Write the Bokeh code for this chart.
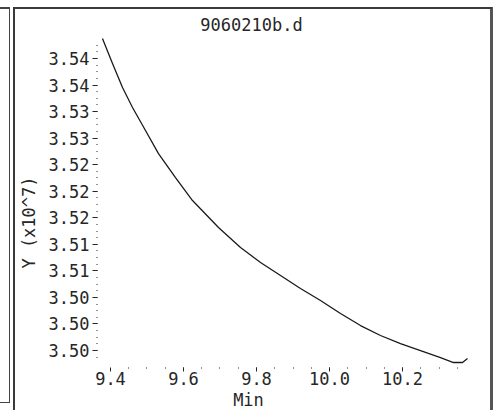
from bokeh.plotting import figure
from bokeh.embed import file_html
from bokeh.resources import INLINE
from bokeh.models import Range1d, FixedTicker, NumeralTickFormatter, Title
import numpy as np

# ---- data (Y in units of 10^7) ----
time_min = [9.378, 9.4055, 9.4329, 9.4603, 9.4959, 9.5315, 9.5781, 9.6247, 9.6959,
            9.7562, 9.8110, 9.8658, 9.9205, 9.9753, 10.0301, 10.0849, 10.1397,
            10.1945, 10.2493, 10.3041, 10.3397, 10.3644, 10.3781]
signal = [3.54301, 3.53925, 3.53563, 3.53262, 3.52915, 3.52568, 3.52207, 3.51860,
          3.51453, 3.51152, 3.50926, 3.50730, 3.50534, 3.50353, 3.50157, 3.49976,
          3.49826, 3.49705, 3.49600, 3.49494, 3.49419, 3.49419, 3.49479]
x_ticks = [9.4, 9.6, 9.8, 10.0, 10.2]
y_ticks = [3.496, 3.500, 3.504, 3.508, 3.512, 3.516, 3.520, 3.524, 3.528, 3.532, 3.536, 3.540]
title_text = "9060210b.d"
x_label = "Min"
y_label = "Y (x10^7)"

W, H = 495, 410
FL, FR, FT, FB = 97, 468, 36, 367   # frame edges in page pixels
FONT = "DejaVu Sans Mono"
FS = "17px"
CW = 10.24                            # character advance of the font, px
INK = "#262626"

p = figure(width=W, height=H, output_backend="svg", toolbar_location=None,
           x_range=Range1d(9.3644, 10.3808), y_range=Range1d(3.49344, 3.54332),
           min_border_left=FL, min_border_right=W - FR, min_border_top=FT,
           min_border_bottom=H - FB)
p.xgrid.visible = False
p.ygrid.visible = False
p.outline_line_color = None
p.background_fill_color = "white"
p.border_fill_color = None

p.line(time_min, signal, line_color="#1a1a1a", line_width=1.3)

x_minor = list(np.round(np.arange(9.45, 10.351, 0.05), 3))
y_minor = list(np.round(np.arange(3.495, 3.5425, 0.001), 4))

for ax, tks, mins, fmt, tout, sto in ((p.xaxis[0], x_ticks, x_minor, "0.0", 4, 0),
                                       (p.yaxis[0], y_ticks, y_minor, "0.00", 5, 3)):
    ax.ticker = FixedTicker(ticks=tks, minor_ticks=mins)
    ax.formatter = NumeralTickFormatter(format=fmt)
    ax.axis_line_color = None
    ax.major_tick_in = 0
    ax.major_tick_out = tout
    ax.major_tick_line_color = INK
    ax.minor_tick_in = 0
    ax.minor_tick_out = 1
    ax.minor_tick_line_color = INK
    ax.major_label_text_font = FONT
    ax.major_label_text_font_size = FS
    ax.major_label_text_color = INK
    ax.major_label_standoff = sto

def title(text, side, offset, standoff):
    t = Title(text=text, align="left", offset=offset, standoff=standoff,
              text_font=FONT, text_font_size=FS, text_color=INK, text_font_style="normal")
    p.add_layout(t, side)

# left-aligned titles shifted so that their centres sit where the reference has them
title(title_text, "above", 251 - len(title_text) * CW / 2 - FL, 4)
title(x_label, "below", 248 - len(x_label) * CW / 2 - FL, 0)
title(y_label, "left", FB - (222 + len(y_label) * CW / 2), 14)

# window frame lines drawn as CSS background rectangles (x, y, w, h, colour)
rects = [(9, 8, 1, 395, "#444444"), (0, 7, 10, 2, "#444444"), (0, 402, 10, 1, "#444444"),
         (13, 7, 2, 403, "#3a3a3a"), (13, 7, 479, 2, "#3a3a3a"), (490, 7, 3, 403, "#555555")]
p.styles = {
    "background-color": "white",
    "background-image": ", ".join(f"linear-gradient({c},{c})" for *_, c in rects),
    "background-size": ", ".join(f"{w}px {h}px" for _, _, w, h, _ in rects),
    "background-position": ", ".join(f"{x}px {y}px" for x, y, *_ in rects),
    "background-repeat": "no-repeat",
}

open("out.html", "w").write(file_html(p, INLINE))
